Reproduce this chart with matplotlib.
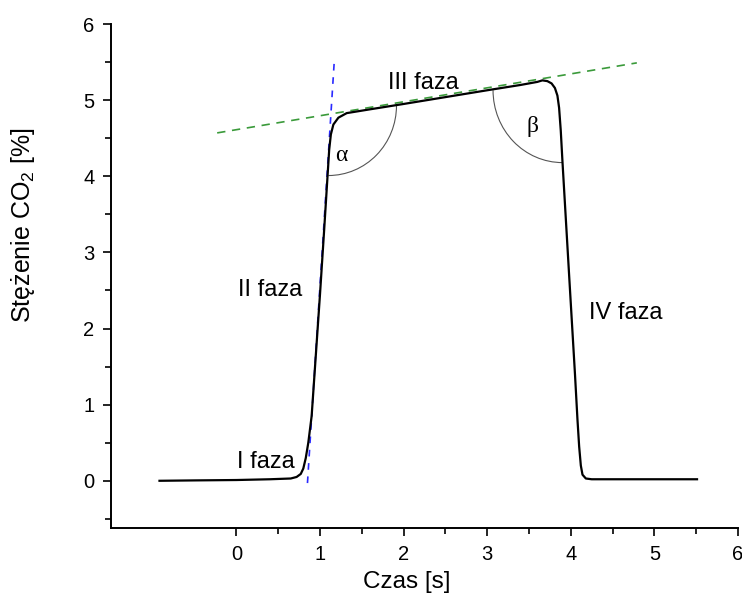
import matplotlib
matplotlib.use("Agg")
import matplotlib.pyplot as plt
from matplotlib.patches import Arc

plt.rcParams["font.family"] = ["Liberation Sans", "DejaVu Sans"]
plt.rcParams["mathtext.default"] = "regular"

# capnogram curve
time_s = [-0.92, -0.5, 0.0, 0.4, 0.65, 0.72, 0.77, 0.80, 0.83, 0.86, 0.90,
          1.00, 1.05, 1.09, 1.11, 1.13, 1.16, 1.22, 1.32, 1.6, 2.0, 2.5,
          3.0, 3.4, 3.6, 3.66, 3.72, 3.77, 3.81, 3.84, 3.86, 3.88, 3.90,
          3.98, 4.05, 4.08, 4.10, 4.12, 4.14, 4.18, 4.25, 4.5, 5.0, 5.51]
co2_pct = [0.0, 0.005, 0.01, 0.02, 0.03, 0.05, 0.09, 0.16, 0.30, 0.50, 0.85,
           2.45, 3.3, 4.0, 4.35, 4.55, 4.68, 4.77, 4.83, 4.88, 4.95, 5.04,
           5.13, 5.20, 5.24, 5.26, 5.25, 5.22, 5.16, 5.06, 4.90, 4.60, 4.20,
           2.70, 1.40, 0.80, 0.45, 0.20, 0.08, 0.03, 0.02, 0.02, 0.02, 0.02]

# tangent lines
slope3_x = [-0.23, 4.79]
slope3_y = [4.57, 5.49]
slope2_x = [0.85, 1.17]
slope2_y = [-0.03, 5.5]

phase_labels = ["I faza", "II faza", "III faza", "IV faza"]
phase_x = [0.35, 0.40, 2.24, 4.66]
phase_y = [0.25, 2.51, 5.22, 2.20]

fig = plt.figure(figsize=(7.42, 6.01), dpi=100)
ax = fig.add_axes([0.1496, 0.1215, 0.845, 0.8385])

ax.plot(slope3_x, slope3_y, "--", color="#3a9a3a", lw=1.2, dashes=(5, 4))
ax.plot(slope2_x, slope2_y, "--", color="#2a2aff", lw=1.2, dashes=(4, 4))
ax.plot(time_s, co2_pct, color="black", lw=1.6)

# angle arcs
ax.add_patch(Arc((1.10, 4.93), 1.63, 1.84, theta1=270, theta2=360,
                 color="#555555", lw=0.8))
ax.add_patch(Arc((3.90, 5.13), 1.66, 1.90, theta1=180, theta2=270,
                 color="#555555", lw=0.8))

for lab, px, py in zip(phase_labels, phase_x, phase_y):
    ax.text(px, py, lab, fontsize=17, ha="center", va="center")
ax.text(1.26, 4.27, "α", fontsize=17, ha="center", va="center",
        family=["Liberation Serif", "DejaVu Serif"])
ax.text(3.54, 4.65, "β", fontsize=17, ha="center", va="center",
        family=["Liberation Serif", "DejaVu Serif"])

ax.set_xlim(-1.5, 6)
ax.set_ylim(-0.62, 6)
ax.set_xticks(range(0, 7))
ax.set_xticks([0.5, 1.5, 2.5, 3.5, 4.5, 5.5], minor=True)
ax.set_yticks(range(0, 7))
ax.set_yticks([-0.5, 0.5, 1.5, 2.5, 3.5, 4.5, 5.5], minor=True)
ax.tick_params(which="major", length=6, width=1.2, labelsize=14.5, pad=6)
ax.tick_params(which="minor", length=4, width=1.2)

ax.spines["top"].set_visible(False)
ax.spines["right"].set_visible(False)
ax.spines["left"].set_linewidth(1.4)
ax.spines["bottom"].set_linewidth(1.4)

ax.set_xlabel("Czas [s]", fontsize=17.5)
ax.xaxis.set_label_coords(0.472, -0.085)
ax.set_ylabel("Stężenie CO$_2$ [%]", fontsize=18)
ax.yaxis.set_label_coords(-0.118, 0.60)

fig.savefig("out.png", dpi=100)
